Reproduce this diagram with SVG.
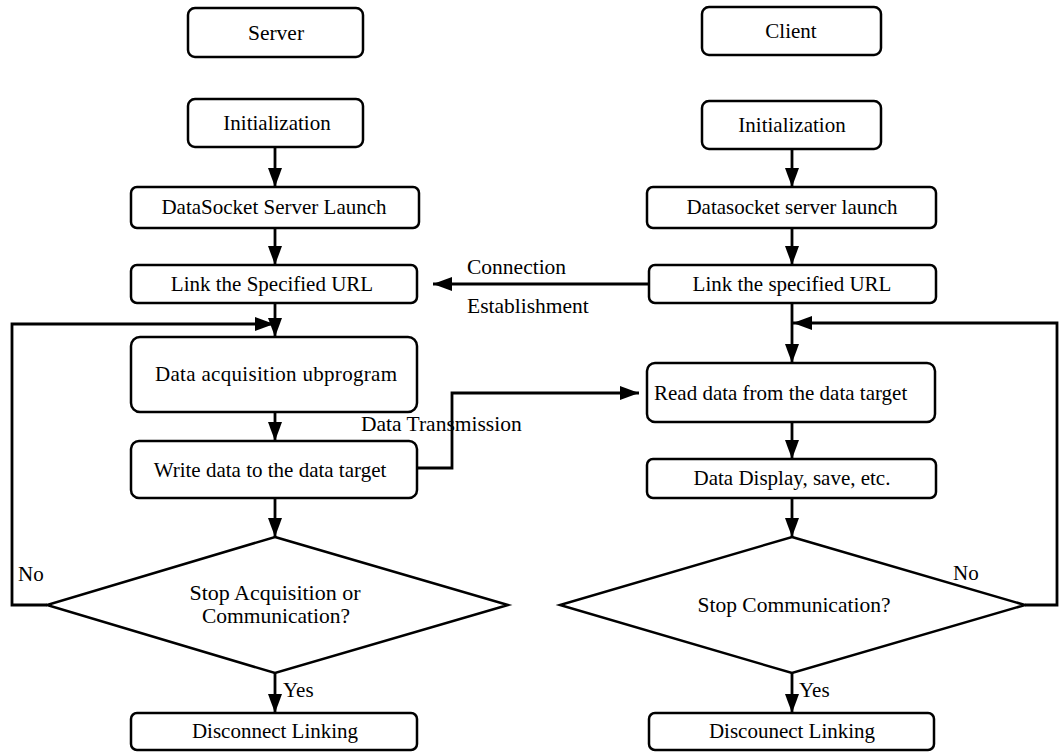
<svg xmlns="http://www.w3.org/2000/svg" width="1059" height="752" viewBox="0 0 1059 752">
<style>
.box{fill:#fff;stroke:#000;stroke-width:2.5}
.dia{fill:#fff;stroke:#000;stroke-width:2.5;stroke-linejoin:miter}
.ln{fill:none;stroke:#000;stroke-width:2.8}
text{font-family:'Liberation Serif','Times New Roman','DejaVu Serif',serif;font-size:21px;fill:#000}
.c{text-anchor:middle}
.s{font-size:21.5px}
.t{font-size:21px}
</style>
<defs>
<marker id="ah" markerUnits="userSpaceOnUse" markerWidth="21" markerHeight="15" refX="19" refY="7" orient="auto">
<path d="M0,0 L19,7 L0,14 z" fill="#000"/>
</marker>
</defs>
<rect width="1059" height="752" fill="#fff"/>
<g id="connectors">
<line class="ln" x1="275" y1="147" x2="275" y2="187" marker-end="url(#ah)"/>
<line class="ln" x1="275" y1="228" x2="275" y2="265" marker-end="url(#ah)"/>
<line class="ln" x1="275" y1="303" x2="275" y2="337" marker-end="url(#ah)"/>
<polyline class="ln" points="47,605 12,605 12,324 274,324" marker-end="url(#ah)"/>
<line class="ln" x1="275" y1="402" x2="275" y2="441" marker-end="url(#ah)"/>
<line class="ln" x1="275" y1="498" x2="275" y2="537" marker-end="url(#ah)"/>
<line class="ln" x1="275" y1="673" x2="275" y2="713" marker-end="url(#ah)"/>
<polyline class="ln" points="417,468 452,468 452,393 639,393" marker-end="url(#ah)"/>
<line class="ln" x1="649" y1="284" x2="433" y2="284" marker-end="url(#ah)"/>
<line class="ln" x1="792" y1="149" x2="792" y2="187" marker-end="url(#ah)"/>
<line class="ln" x1="792" y1="228" x2="792" y2="265" marker-end="url(#ah)"/>
<line class="ln" x1="792" y1="303" x2="792" y2="363" marker-end="url(#ah)"/>
<polyline class="ln" points="1025,605 1057,605 1057,323 793,323" marker-end="url(#ah)"/>
<line class="ln" x1="792" y1="422" x2="792" y2="459" marker-end="url(#ah)"/>
<line class="ln" x1="792" y1="498" x2="792" y2="537" marker-end="url(#ah)"/>
<line class="ln" x1="792" y1="673" x2="792" y2="713" marker-end="url(#ah)"/>
<text x="467" y="274" class="s">Connection</text>
<text x="467" y="313" class="s">Establishment</text>
<text x="361" y="431" class="s">Data Transmission</text>
<text x="18" y="581" class="t">No</text>
<text x="283" y="697" class="t">Yes</text>
<text x="953" y="580" class="t">No</text>
<text x="799" y="697" class="t">Yes</text>
</g>
<g id="server-title"><rect class="box" x="188" y="8" width="175" height="49" rx="7"/><text class="c" x="276" y="40" style="font-size:21.5px">Server</text></g>
<g id="server-init"><rect class="box" x="188" y="99" width="175" height="48" rx="7"/><text class="c" x="277" y="130">Initialization</text></g>
<g id="server-launch"><rect class="box" x="131" y="187" width="288" height="41" rx="6"/><text class="c" x="274" y="214">DataSocket  Server Launch</text></g>
<g id="server-link"><rect class="box" x="131" y="265" width="286" height="38" rx="6"/><text class="c" x="272" y="291">Link the Specified URL</text></g>
<g id="server-acq"><rect class="box" x="131" y="337" width="286" height="75" rx="9"/><text class="c" x="276" y="381" textLength="242">Data acquisition  ubprogram</text></g>
<g id="server-write"><rect class="box" x="131" y="441" width="286" height="57" rx="8"/><text class="c" x="270" y="477">Write data to the data target</text></g>
<g id="server-decision"><polygon class="dia" points="275,537 508,605 275,673 47,605"/><text class="c" x="275" y="600" style="font-size:22px">Stop Acquisition or</text><text class="c" x="276" y="623" style="font-size:21.5px">Communication?</text></g>
<g id="server-disconnect"><rect class="box" x="131" y="713" width="286" height="37" rx="6"/><text class="c" x="275" y="738">Disconnect Linking</text></g>
<g id="client-title"><rect class="box" x="702" y="7" width="179" height="48" rx="7"/><text class="c" x="791" y="38">Client</text></g>
<g id="client-init"><rect class="box" x="702" y="101" width="179" height="48" rx="7"/><text class="c" x="792" y="132">Initialization</text></g>
<g id="client-launch"><rect class="box" x="647" y="187" width="289" height="41" rx="6"/><text class="c" x="792" y="214">Datasocket server launch</text></g>
<g id="client-link"><rect class="box" x="649" y="265" width="287" height="38" rx="6"/><text class="c" x="792" y="291">Link the specified URL</text></g>
<g id="client-read"><rect class="box" x="647" y="363" width="288" height="59" rx="8"/><text x="654" y="400">Read data from the data target</text></g>
<g id="client-display"><rect class="box" x="647" y="459" width="289" height="39" rx="6"/><text class="c" x="792" y="485">Data Display, save, etc.</text></g>
<g id="client-decision"><polygon class="dia" points="792,537 1025,605 792,673 560,605"/><text class="c" x="794" y="612" style="font-size:21.5px">Stop Communication?</text></g>
<g id="client-disconnect"><rect class="box" x="649" y="713" width="285" height="37" rx="6"/><text class="c" x="792" y="738">Discounect Linking</text></g>
</svg>
